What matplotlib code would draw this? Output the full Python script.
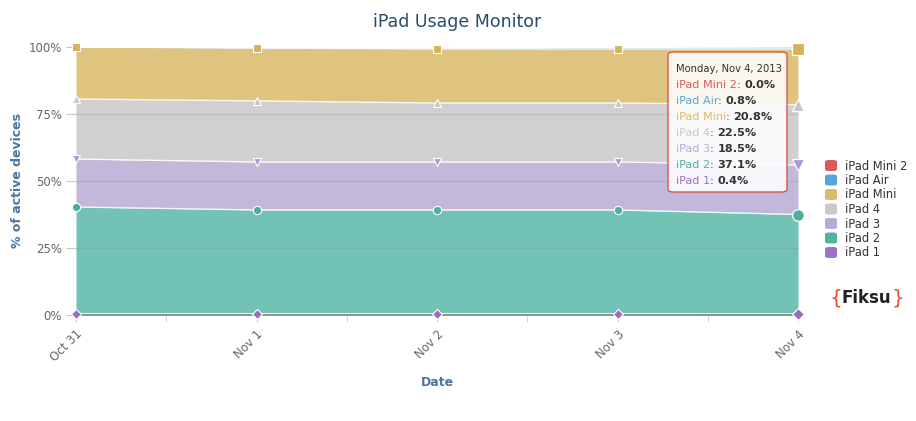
import matplotlib
matplotlib.use('Agg')
import matplotlib.pyplot as plt
from matplotlib.patches import FancyBboxPatch
import numpy as np

# ---------------- data ----------------
dates = ['Oct 31', 'Nov 1', 'Nov 2', 'Nov 3', 'Nov 4']
series_names = ['iPad 1', 'iPad 2', 'iPad 3', 'iPad 4', 'iPad Mini', 'iPad Air', 'iPad Mini 2']
ipad1 = [0.5, 0.5, 0.5, 0.5, 0.4]
ipad2 = [39.8, 38.7, 38.7, 38.7, 37.1]
ipad3 = [17.9, 17.9, 17.9, 17.9, 18.5]
ipad4 = [22.4, 22.8, 22.0, 22.0, 22.5]
ipad_mini = [19.4, 19.7, 20.2, 20.2, 20.8]
ipad_air = [0.0, 0.2, 0.4, 0.6, 0.8]
ipad_mini2 = [0.0, 0.0, 0.0, 0.0, 0.0]
y_ticks = [0, 25, 50, 75, 100]
y_tick_labels = ['0%', '25%', '50%', '75%', '100%']
tooltip_date = 'Monday, Nov 4, 2013'

values = [ipad1, ipad2, ipad3, ipad4, ipad_mini, ipad_air, ipad_mini2]

# ---------------- styles ----------------
fill_colors = ['#a57cc8', '#72c2b5', '#c1b8da', '#d1cfd1', '#dec47e', '#8cc0e6', '#e28080']
marker_colors = ['#9c6bc2', '#4dae9e', '#a99bd2', '#c6c6c6', '#d5b356', '#5aa4dc', '#dc5a5a']
legend_colors = ['#a070c6', '#4db3a2', '#b7acd6', '#c9c9c9', '#d9bd6c', '#5aa4dc', '#dd5a5a']
markers = ['D', 'o', 'v', '^', 's', 'D', 'o']
norm_size = [4.6, 6.0, 6.0, 6.0, 5.4, 4.6, 6.0]
hover_size = [6.4, 8.4, 9.0, 9.0, 8.0, 6.4, 8.4]

W, H = 916, 421
fig = plt.figure(figsize=(W / 100, H / 100), dpi=100)
fig.patch.set_facecolor('white')

def fx(px):
    return px / W

def fy(py):
    return 1 - py / H

ax = fig.add_axes([fx(76), fy(315), fx(798) - fx(76), fy(47) - fy(315)])
x = np.arange(len(dates))
ax.set_xlim(0, len(dates) - 1)
ax.set_ylim(0, 100)

cum = np.cumsum(np.array(values), axis=0)
lower = np.zeros(len(dates))
for i, name in enumerate(series_names):
    ax.fill_between(x, lower, cum[i], color=fill_colors[i], lw=0, zorder=1)
    lower = cum[i]

# gridlines drawn over fills (they show through the semi-transparent areas)
for t in y_ticks[1:]:
    ax.axhline(t, color=(0.45, 0.45, 0.45, 0.18), lw=1, zorder=2)

# series top lines
for i in range(len(series_names)):
    ax.plot(x, cum[i], color='white', lw=1.0, alpha=0.85, zorder=3)

# markers
for i in range(5):
    ax.plot(x[:-1], cum[i][:-1], ls='none', marker=markers[i], ms=norm_size[i],
            mfc=marker_colors[i], mec='white', mew=0.8, zorder=5, clip_on=False)
    ax.plot(x[-1:], cum[i][-1:], ls='none', marker=markers[i], ms=hover_size[i],
            mfc=marker_colors[i], mec='white', mew=0.9, zorder=5, clip_on=False)

# axes styling
for s in ['top', 'right', 'left']:
    ax.spines[s].set_visible(False)
ax.spines['bottom'].set_color('#8c8c8c')
ax.spines['bottom'].set_linewidth(1.3)
ax.spines['bottom'].set_zorder(4)

ax.set_yticks(y_ticks)
ax.set_yticklabels(y_tick_labels)
ax.tick_params(axis='y', length=7, color='#c8c8c8', labelcolor='#666666', labelsize=8.5, pad=3)
ax.set_xticks(x)
ax.set_xticks(np.arange(0.5, len(dates) - 1, 1.0), minor=True)
ax.set_xticklabels(dates, rotation=45, ha='right', va='top', rotation_mode='anchor')
ax.tick_params(axis='x', which='both', length=5, color='#c0d0e0', labelcolor='#666666',
               labelsize=8.5, pad=4)

# titles
fig.text(fx(457), fy(22), 'iPad Usage Monitor', ha='center', va='center', fontsize=12.5,
         color='#274b6d')
fig.text(fx(18), fy(181), '% of active devices', rotation=90, ha='center', va='center',
         fontsize=9, fontweight='bold', color='#4d759e')
fig.text(fx(437), fy(383), 'Date', ha='center', va='center', fontsize=9,
         fontweight='bold', color='#4d759e')

# legend (reversed order)
leg_y0 = 166
leg_dy = 14.5
for k, i in enumerate(range(len(series_names) - 1, -1, -1)):
    yc = leg_y0 + k * leg_dy
    p = FancyBboxPatch((fx(825), fy(yc + 5)), fx(12), (11 / H),
                       boxstyle='round,pad=0,rounding_size=0.004',
                       transform=fig.transFigure, fc=legend_colors[i], ec='none')
    fig.patches.append(p)
    fig.text(fx(845), fy(yc), series_names[i], ha='left', va='center', fontsize=8.3,
             color='#333333')

# tooltip
tb = FancyBboxPatch((fx(668), fy(192)), fx(787) - fx(668), fy(52) - fy(192),
                    boxstyle='round,pad=0,rounding_size=0.006', transform=fig.transFigure,
                    fc=(1, 1, 1, 0.88), ec='#d9534f', lw=1.0, zorder=10)
fig.patches.append(tb)
fig.text(fx(676), fy(69), tooltip_date, ha='left', va='center', fontsize=7.2,
         color='#333333', zorder=11)
fig.canvas.draw()
renderer = fig.canvas.get_renderer()
line_y = [85, 101, 117, 133, 149, 165, 181]
for k, i in enumerate(range(len(series_names) - 1, -1, -1)):
    yy = fy(line_y[k])
    t1 = fig.text(fx(676), yy, series_names[i], ha='left', va='center', fontsize=8.1,
                  color=legend_colors[i], zorder=11)
    bb = t1.get_window_extent(renderer)
    t2 = fig.text(bb.x1 / W, yy, ': ', ha='left', va='center', fontsize=8.1,
                  color='#333333', zorder=11)
    bb2 = t2.get_window_extent(renderer)
    fig.text(bb2.x1 / W, yy, '%.1f%%' % values[i][-1], ha='left', va='center',
             fontsize=8.1, fontweight='bold', color='#333333', zorder=11)

# Fiksu logo
lx = fx(829)
ly = fy(298)
tb1 = fig.text(lx, ly, '{', ha='left', va='center', fontsize=14.5, color='#e8502a')
b = tb1.get_window_extent(renderer)
tb2 = fig.text(b.x1 / W, ly, 'Fiksu', ha='left', va='center', fontsize=12,
               fontweight='bold', color='#222222')
b = tb2.get_window_extent(renderer)
fig.text(b.x1 / W, ly, '}', ha='left', va='center', fontsize=14.5, color='#e8502a')

fig.savefig('out.png', dpi=100, facecolor='white')
